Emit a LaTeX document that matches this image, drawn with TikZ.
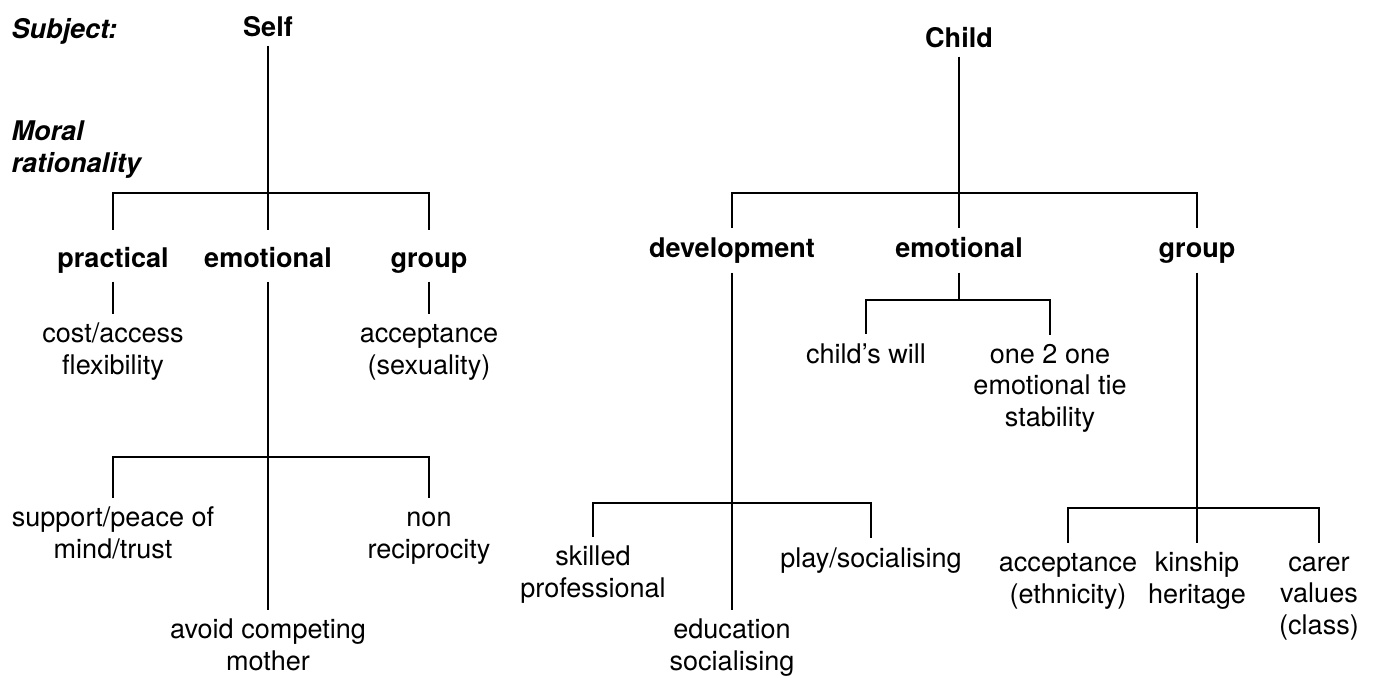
\documentclass[tikz,border=0pt]{standalone}
\usepackage{fontspec}
\setmainfont{TeX Gyre Heros}
\newcommand\treefont{\fontsize{15.4}{17.8}\selectfont}
\newcommand\treelinewidth{0.6pt}
\newcommand\leafstrut{\rule{0pt}{0.4cm}}
\tikzset{
  rootnode/.style={font=\treefont\bfseries, anchor=base, inner sep=0pt, text depth=0.18cm},
  headnode/.style={font=\treefont\bfseries, anchor=base, inner xsep=0pt, inner ysep=0.16cm, text height=0.4cm, text depth=0.14cm},
  leftheadnode/.style={headnode, text height=0.56cm, text depth=0.12cm},
  leafnode/.style={font=\treefont, anchor=base, align=center, inner xsep=0pt, inner ysep=0.16cm},
  sidenode/.style={font=\treefont\bfseries\itshape, anchor=base west, align=left, inner sep=0pt}
}
\begin{document}
\begin{tikzpicture}[x=0.02cm, y=-0.02cm, line width=\treelinewidth]
  \useasboundingbox (0,0) rectangle (1378,677);
  \node[sidenode] (subj) at (11,38) {Subject:};
  \node[sidenode] (moral) at (11,172) {Moral\\rationality};
  \node[rootnode] (self) at (268,36) {Self};
  \node[leftheadnode] (prac) at (113,267) {practical};
  \node[leftheadnode] (emo) at (268,267) {emotional};
  \node[leftheadnode] (grp) at (429,267) {group};
  \node[leafnode] (cost) at (113,374) {\leafstrut cost/access\\flexibility};
  \node[leafnode] (sex) at (429,374) {\leafstrut acceptance\\(sexuality)};
  \node[leafnode] (supp) at (113,558) {\leafstrut support/peace of\\mind/trust};
  \node[leafnode] (nonrec) at (429,558) {\leafstrut non\\reciprocity};
  \node[leafnode] (avoid) at (268,670) {\leafstrut avoid competing\\mother};
  \coordinate (selfbar) at (268,193);
  \coordinate (emobar) at (268,457);
  \draw (self.south) -- (selfbar);
  \foreach \n in {prac,emo,grp}
    \draw (selfbar) -| (\n.north);
  \draw (prac.south) -- (cost.north);
  \draw (grp.south) -- (sex.north);
  \draw (emo.south) -- (emobar) -- (avoid.north);
  \foreach \n in {supp,nonrec}
    \draw (emobar) -| (\n.north);

  \node[rootnode] (child) at (959,47) {Child};
  \node[headnode] (dev) at (732,257) {development};
  \node[headnode] (emotwo) at (959,257) {emotional};
  \node[headnode] (grptwo) at (1197,257) {group};
  \node[leafnode] (will) at (866,363) {\leafstrut child’s will};
  \node[leafnode] (tie) at (1050,426) {\leafstrut one 2 one\\emotional tie\\stability};
  \node[leafnode] (skill) at (593,597) {\leafstrut skilled\\professional};
  \node[leafnode] (play) at (871,567) {\leafstrut play/socialising};
  \node[leafnode] (edu) at (732,670) {\leafstrut education\\socialising};
  \node[leafnode] (eth) at (1068,603) {\leafstrut acceptance\\(ethnicity)};
  \node[leafnode] (kin) at (1197,603) {\leafstrut kinship\\heritage};
  \node[leafnode] (carer) at (1319,634) {\leafstrut carer\\values\\(class)};
  \coordinate (childbar) at (959,193);
  \coordinate (emotwobar) at (959,300);
  \coordinate (devbar) at (732,503);
  \coordinate (grptwobar) at (1197,508);
  \draw (child.south) -- (childbar);
  \foreach \n in {dev,emotwo,grptwo}
    \draw (childbar) -| (\n.north);
  \draw (emotwo.south) -- (emotwobar);
  \foreach \n in {will,tie}
    \draw (emotwobar) -| (\n.north);
  \draw (dev.south) -- (devbar) -- (edu.north);
  \foreach \n in {skill,play}
    \draw (devbar) -| (\n.north);
  \draw (grptwo.south) -- (grptwobar);
  \foreach \n in {eth,kin,carer}
    \draw (grptwobar) -| (\n.north);
\end{tikzpicture}
\end{document}
